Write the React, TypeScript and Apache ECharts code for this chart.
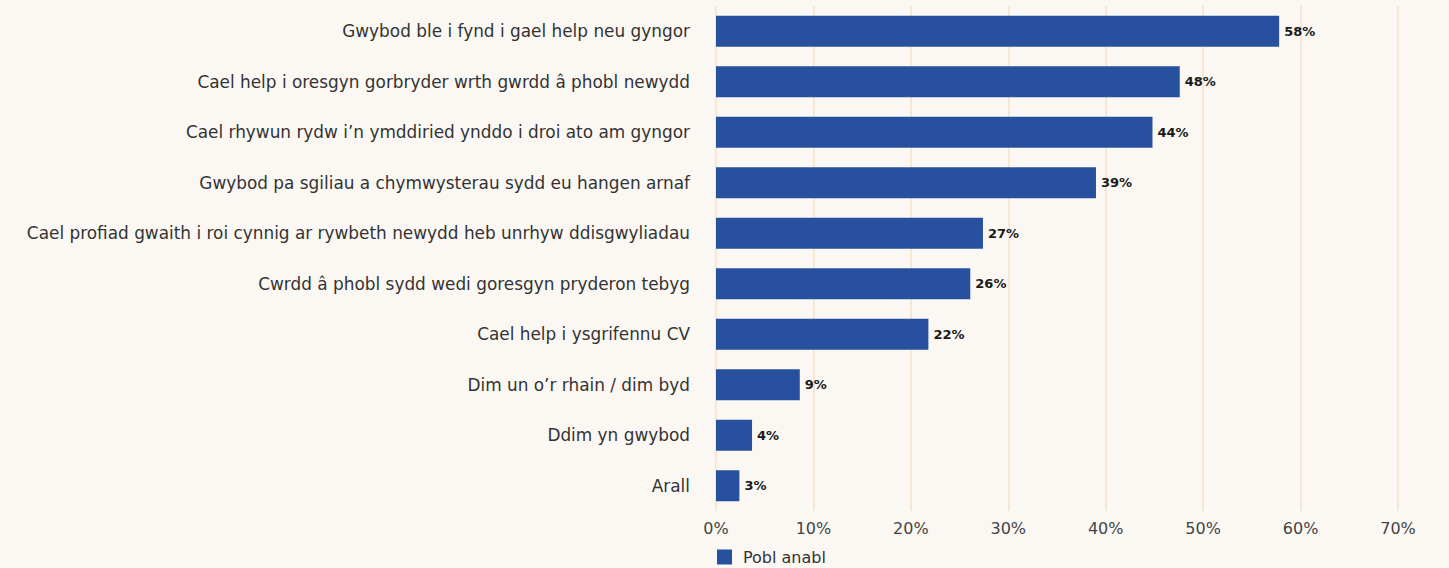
import React, { useEffect, useRef } from "react";
import * as echarts from "echarts";

const categories = [
  "Gwybod ble i fynd i gael help neu gyngor",
  "Cael help i oresgyn gorbryder wrth gwrdd â phobl newydd",
  "Cael rhywun rydw i’n ymddiried ynddo i droi ato am gyngor",
  "Gwybod pa sgiliau a chymwysterau sydd eu hangen arnaf",
  "Cael profiad gwaith i roi cynnig ar rywbeth newydd heb unrhyw ddisgwyliadau",
  "Cwrdd â phobl sydd wedi goresgyn pryderon tebyg",
  "Cael help i ysgrifennu CV",
  "Dim un o’r rhain / dim byd",
  "Ddim yn gwybod",
  "Arall",
];
const values = [57.8, 47.6, 44.8, 39.0, 27.4, 26.1, 21.8, 8.6, 3.7, 2.4];
const valueLabels = ["58%", "48%", "44%", "39%", "27%", "26%", "22%", "9%", "4%", "3%"];
const seriesName = "Pobl anabl";
const xTicks = [0, 10, 20, 30, 40, 50, 60, 70];

export default function App() {
  const ref = useRef<HTMLDivElement>(null);
  useEffect(() => {
    if (!ref.current) return;
    const chart = echarts.init(ref.current, undefined, { renderer: "svg" });
    const font = "'DejaVu Sans', sans-serif";
    chart.setOption({
      animation: false,
      backgroundColor: "#fbf8f3",
      textStyle: { fontFamily: font },
      grid: { left: 716, right: 51, top: 6, bottom: 57, containLabel: false },
      legend: {
        show: true,
        left: 712,
        top: 544,
        itemWidth: 15,
        itemHeight: 15,
        icon: "rect",
        textStyle: { fontFamily: font, fontSize: 16, color: "#333", padding: [0, 0, 0, 6] },
        data: [seriesName],
      },
      xAxis: {
        type: "value",
        min: xTicks[0],
        max: xTicks[xTicks.length - 1],
        interval: 10,
        axisLine: { show: false },
        axisTick: { show: false },
        axisLabel: {
          formatter: (v: number) => v + "%",
          fontSize: 16,
          color: "#444",
          margin: 9,
          fontFamily: font,
        },
        splitLine: { show: true, lineStyle: { color: "#f6e7d5", width: 2 } },
      },
      yAxis: {
        type: "category",
        inverse: true,
        data: categories,
        axisLine: { show: false },
        axisTick: { show: false },
        axisLabel: { fontSize: 16.9, color: "#333", margin: 26, fontFamily: font },
      },
      series: [
        {
          name: seriesName,
          type: "bar",
          data: values,
          barWidth: 31,
          itemStyle: { color: "#27519f" },
          label: {
            show: true,
            position: "right",
            distance: 5,
            formatter: (p: any) => valueLabels[p.dataIndex],
            fontSize: 13,
            fontWeight: "bold",
            color: "#1a1a1a",
            fontFamily: font,
          },
        },
      ],
    });
    return () => chart.dispose();
  }, []);
  return (
    <div
      ref={ref}
      style={{ position: "fixed", left: 0, top: 0, width: 1449, height: 568 }}
    />
  );
}
